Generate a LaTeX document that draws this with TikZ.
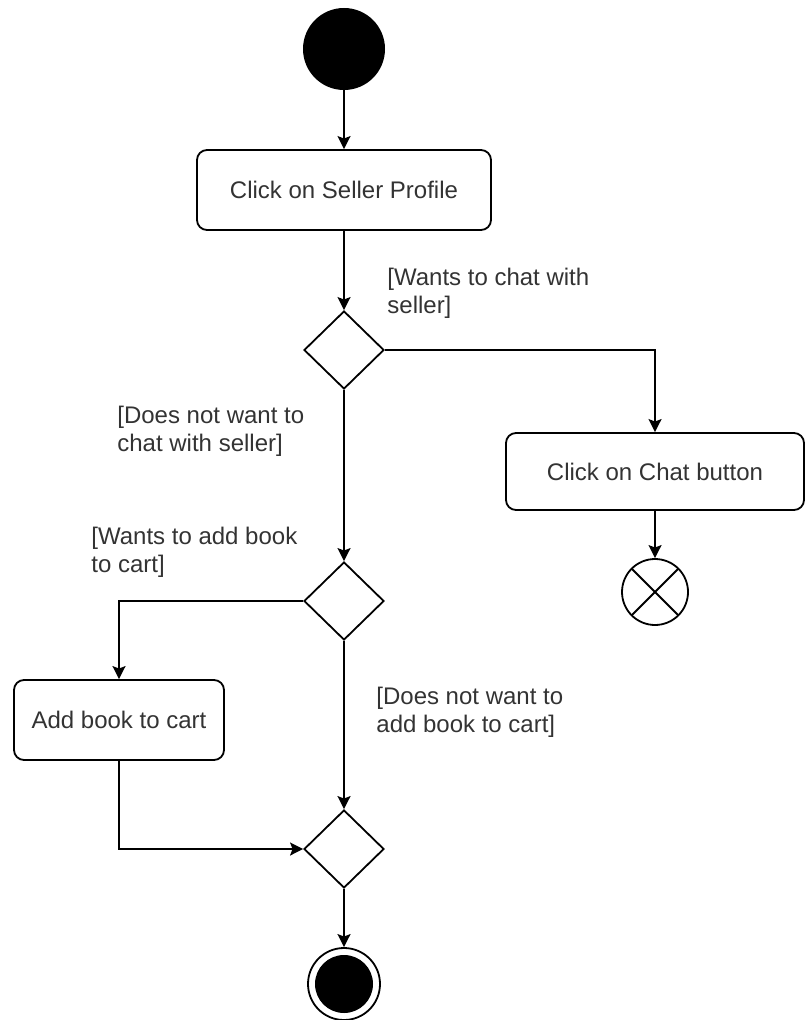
\documentclass[tikz,border=0pt]{standalone}
\usepackage{fontspec}
\setmainfont{Liberation Sans}
\usepackage{xcolor}
\usetikzlibrary{arrows.meta, positioning, shapes.geometric}

\begin{document}
\begin{tikzpicture}[
  x=0.5pt, y=-0.5pt,
  font=\fontsize{12pt}{14pt}\selectfont,
  action/.style={draw, line width=0.9pt, rounded corners=5pt, align=center, minimum width=147pt, minimum height=40pt, text=black!80},
  decision/.style={draw, line width=0.9pt, diamond, minimum width=40pt, minimum height=39pt, inner sep=0pt},
  guard/.style={align=left, inner sep=0pt, text=black!80, anchor=north west},
  flow/.style={-{Stealth[inset=1.2pt, length=6.5pt, width=6.5pt]}, line width=0.9pt}
]
\useasboundingbox (0,0) rectangle (805,1020);

\node[circle, fill=black, minimum size=41pt, inner sep=0pt] (start) at (344,49) {};
\node[action] (seller) at (344,190) {Click on Seller Profile};
\node[decision] (chatq) at (344,350) {};
\node[action, minimum width=149pt, minimum height=38.5pt] (chat) at (655,471.5) {Click on Chat button};
\node[circle, draw, line width=0.9pt, minimum size=33pt, inner sep=0pt,
  path picture={\draw[line width=0.9pt, shift={(path picture bounding box.center)}]
    (45:17pt) -- (225:17pt) (135:17pt) -- (-45:17pt);}] (stop) at (655,592) {};
\node[decision] (cartq) at (344,601) {};
\node[action, minimum width=105pt] (cart) at (119,720) {Add book to cart};
\node[decision] (merge) at (344,849) {};
\node[circle, draw, line width=0.9pt, minimum size=36pt, inner sep=0pt,
  path picture={\fill (path picture bounding box.center) circle (14.5pt);}] (final) at (344,984) {};

\node[guard] (g1) at (387,268) {[Wants to chat with\\seller]};
\node[guard] (g2) at (117,406) {[Does not want to\\chat with seller]};
\node[guard] (g3) at (91,527) {[Wants to add book\\to cart]};
\node[guard] (g4) at (376,687) {[Does not want to\\add book to cart]};

\draw[flow] (start) -- (seller);
\draw[flow] (seller) -- (chatq);
\draw[flow] (chatq.east) -| (chat.north);
\draw[flow] (chat) -- (stop);
\draw[flow] (chatq.south) -- (cartq.north);
\draw[flow] (cartq.west) -| (cart.north);
\draw[flow] (cartq.south) -- (merge.north);
\draw[flow] (cart.south) |- (merge.west);
\draw[flow] (merge) -- (final);
\end{tikzpicture}
\end{document}
